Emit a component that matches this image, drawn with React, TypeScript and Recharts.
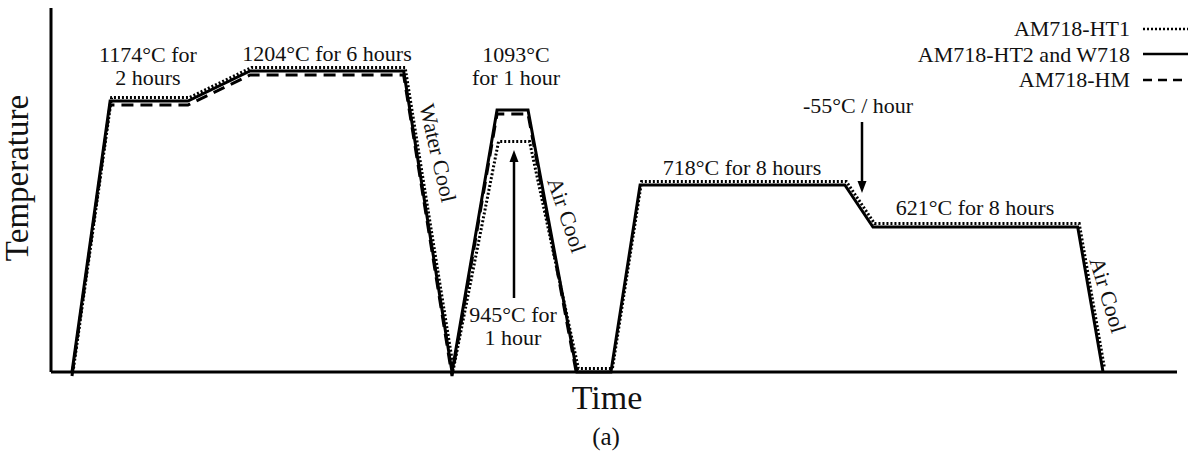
import { LineChart, Line, XAxis, YAxis, Legend, Customized } from "recharts";

const FONT = '"Liberation Serif", "Times New Roman", serif';

// Heat-treatment schedule, time in schematic hours, temperature in °C
const stepTime = [0.82, 2.31, 5.35, 7.78, 13.78, 15.67, 17.43, 18.64, 20.55, 21.88, 23.02, 31.02, 32.12, 40.12, 41.11];
const tempHT2 = [25, 1174, 1174, 1204, 1204, 25, 1093, 1093, 25, 25, 718, 718, 621, 621, 25];
const tempHT1 = [25, 1174, 1174, 1204, 1204, 25, 945, 945, 25, 25, 718, 718, 621, 621, 25];
// HM only differs up to the end of the solution step, then follows HT2
const tempHM = [25, 1174, 1174, 1204, 1204, 25, 1093, 1093, 25];

const seriesNames = ["AM718-HT1", "AM718-HT2 and W718", "AM718-HM"];

const toPoints = (time: number[], temp: number[]) =>
  temp.map((T, i) => ({ t: time[i], T }));

// temperature axis is a schematic (not to scale): piecewise-linear between key levels
const levelTemps = [25, 621, 718, 945, 1093, 1174, 1204, 1300];
const levelFrac = [0, 0.3984, 0.5137, 0.6236, 0.7198, 0.7445, 0.8269, 1];

function schematicScale(): any {
  let dom = [levelTemps[0], levelTemps[levelTemps.length - 1]];
  let rng = [0, 1];
  const frac = (v: number) => {
    for (let i = 1; i < levelTemps.length; i++) {
      if (v <= levelTemps[i] || i === levelTemps.length - 1) {
        const a = levelTemps[i - 1];
        const b = levelTemps[i];
        return levelFrac[i - 1] + ((levelFrac[i] - levelFrac[i - 1]) * (v - a)) / (b - a);
      }
    }
    return 1;
  };
  const scale: any = (v: number) => rng[0] + (rng[1] - rng[0]) * frac(v);
  scale.domain = (d?: number[]) => {
    if (d === undefined) return dom.slice();
    dom = d.slice();
    return scale;
  };
  scale.range = (r?: number[]) => {
    if (r === undefined) return rng.slice();
    rng = r.slice();
    return scale;
  };
  scale.copy = () => schematicScale().domain(dom).range(rng);
  scale.ticks = () => levelTemps.slice();
  scale.invert = (px: number) => {
    const f = (px - rng[0]) / (rng[1] - rng[0]);
    for (let i = 1; i < levelFrac.length; i++) {
      if (f <= levelFrac[i]) {
        const a = levelFrac[i - 1];
        const b = levelFrac[i];
        return levelTemps[i - 1] + ((levelTemps[i] - levelTemps[i - 1]) * (f - a)) / (b - a);
      }
    }
    return levelTemps[levelTemps.length - 1];
  };
  return scale;
}

const tempScale = schematicScale();

function Note({ x, y, children, size = 22, rotate = 0 }: any) {
  return (
    <text
      x={x}
      y={y}
      textAnchor="middle"
      fontFamily={FONT}
      fontSize={size}
      fill="#111"
      dy={rotate ? "0.35em" : 0}
      transform={rotate ? `rotate(${rotate}, ${x}, ${y})` : undefined}
    >
      {children}
    </text>
  );
}

function Arrow({ x, y1, y2 }: { x: number; y1: number; y2: number }) {
  const dir = y2 > y1 ? 1 : -1;
  return (
    <g>
      <line x1={x} y1={y1} x2={x} y2={y2 - dir * 10} stroke="#000" strokeWidth={2.5} />
      <polygon points={`${x - 4.5},${y2 - dir * 12} ${x + 4.5},${y2 - dir * 12} ${x},${y2}`} fill="#000" />
    </g>
  );
}

function Annotations() {
  return (
    <g>
      <Note x={148} y={62}>1174°C for</Note>
      <Note x={148} y={85}>2 hours</Note>
      <Note x={327} y={61}>1204°C for 6 hours</Note>
      <Note x={516} y={62}>1093°C</Note>
      <Note x={516} y={85}>for 1 hour</Note>
      <Note x={438} y={153} rotate={77}>Water Cool</Note>
      <Note x={567} y={215} rotate={71}>Air Cool</Note>
      <Note x={513} y={322}>945°C for</Note>
      <Note x={513} y={345}>1 hour</Note>
      <Arrow x={514} y1={298} y2={150} />
      <Note x={858} y={113}>-55°C / hour</Note>
      <Arrow x={862} y1={122} y2={193} />
      <Note x={742} y={175}>718°C for 8 hours</Note>
      <Note x={975} y={215}>621°C for 8 hours</Note>
      <Note x={1108} y={295} rotate={73}>Air Cool</Note>
      <text x={28} y={178} textAnchor="middle" fontFamily={FONT} fontSize={33} fill="#111" transform="rotate(-90, 28, 178)">
        Temperature
      </text>
      <Note x={607} y={409} size={34}>Time</Note>
      <Note x={606} y={445} size={25}>(a)</Note>
    </g>
  );
}

function LegendRows({ payload }: any) {
  return (
    <div style={{ fontFamily: FONT, fontSize: 22, color: "#111", lineHeight: "25.5px" }}>
      {(payload || []).map((entry: any) => (
        <div key={entry.value} style={{ display: "flex", alignItems: "center", justifyContent: "flex-end" }}>
          <span>{entry.value}</span>
          <svg width={45} height={10} style={{ marginLeft: 13, display: "block" }}>
            <line
              x1={0}
              x2={45}
              y1={5}
              y2={5}
              stroke="#000"
              strokeWidth={2.5}
              strokeDasharray={entry.payload?.legendDash}
            />
          </svg>
        </div>
      ))}
    </div>
  );
}

export default function App() {
  return (
    <div style={{ position: "absolute", left: 0, top: 0, width: 1188, height: 457, background: "#fff" }}>
      <LineChart width={1188} height={457} margin={{ top: 8, right: 11, left: 50, bottom: 84 }}>
        <XAxis
          type="number"
          dataKey="t"
          domain={[0, 44]}
          height={1}
          tick={false}
          tickLine={false}
          axisLine={{ stroke: "#000", strokeWidth: 3 }}
        />
        <YAxis
          type="number"
          dataKey="T"
          domain={[25, 1300]}
          scale={tempScale}
          ticks={[25, 1300]}
          width={1}
          tick={false}
          tickLine={false}
          axisLine={{ stroke: "#000", strokeWidth: 3 }}
        />
        <Line
          data={toPoints(stepTime, tempHT1)}
          dataKey="T"
          name={seriesNames[0]}
          type="linear"
          stroke="#000"
          strokeWidth={3}
          strokeDasharray="2 2"
          legendDash="2 2"
          transform="translate(1.5, -3.5)"
          dot={false}
          isAnimationActive={false}
        />
        <Line
          data={toPoints(stepTime, tempHT2)}
          dataKey="T"
          name={seriesNames[1]}
          type="linear"
          stroke="#000"
          strokeWidth={3}
          legendDash="none"
          dot={false}
          isAnimationActive={false}
        />
        <Line
          data={toPoints(stepTime.slice(0, tempHM.length), tempHM)}
          dataKey="T"
          name={seriesNames[2]}
          type="linear"
          stroke="#000"
          strokeWidth={3}
          strokeDasharray="12 7"
          legendDash="9 6"
          transform="translate(0, 4)"
          dot={false}
          isAnimationActive={false}
        />
        <Customized component={<Annotations />} />
        <Legend
          layout="vertical"
          verticalAlign="middle"
          align="center"
          itemSorter={(item: any) => seriesNames.indexOf(item.value)}
          wrapperStyle={{ top: 16, right: 0, left: "auto", width: "auto" }}
          content={<LegendRows />}
        />
      </LineChart>
    </div>
  );
}
